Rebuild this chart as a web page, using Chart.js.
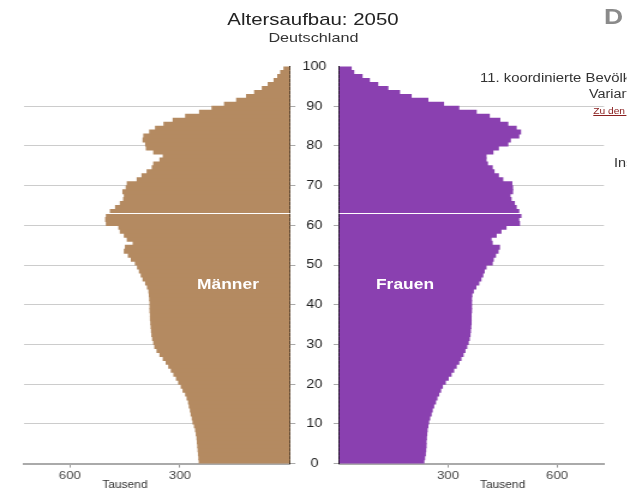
<!DOCTYPE html>
<html>
<head>
<meta charset="utf-8">
<script src="https://cdn.jsdelivr.net/npm/chart.js@4.4.1/dist/chart.umd.min.js"></script>
<style>
html,body{margin:0;padding:0;background:#fff;overflow:hidden;width:642px;height:491px}
#stage{position:absolute;left:0;top:0;width:535px;height:491px;transform:scaleX(1.2);transform-origin:0 0;font-family:"Liberation Sans",Arial,sans-serif;}
.txt{position:absolute;white-space:nowrap;line-height:1;}
#clip{position:absolute;left:0;top:0;width:521.7px;height:200px;overflow:hidden;}
canvas{position:absolute;top:0}
</style>
</head>
<body>
<div id="stage">
  <canvas id="men" width="247" height="491" style="left:0px"></canvas>
  <canvas id="women" width="263" height="491" style="left:241px"></canvas>
  <div class="txt" style="left:0;width:521.6px;text-align:center;top:10.6px;font-size:17px;color:#222">Altersaufbau: 2050</div>
  <div class="txt" style="left:0;width:522.4px;text-align:center;top:31.3px;font-size:13.5px;color:#333">Deutschland</div>
  <div id="clip">
    <div class="txt" style="left:503.3px;top:6.4px;font-size:22px;font-weight:bold;color:#8a8a8a">D</div>
    <div class="txt" style="left:400px;top:72.2px;font-size:12.4px;color:#333">11. koordinierte Bevölkerungsvorausberechnung</div>
    <div class="txt" style="left:490.8px;top:88.1px;font-size:12px;color:#333">Variante 1-W1</div>
    <div class="txt" style="left:494.4px;top:106.8px;font-size:8.5px;color:#8b2020;text-decoration:underline">Zu den Annahmen</div>
    <div class="txt" style="left:511.7px;top:156.5px;font-size:12px;color:#333">Insgesamt</div>
  </div>
  <div class="txt" style="left:140px;width:100px;text-align:center;top:277px;font-size:14.5px;font-weight:bold;color:#fff">Männer</div>
  <div class="txt" style="left:287.5px;width:100px;text-align:center;top:277px;font-size:14.5px;font-weight:bold;color:#fff">Frauen</div>
</div>
<script>
// ---- data ----
const AGES = Array.from({length: 100}, (_, i) => i); // age groups 0..99
const MEN = [
  249,250,251,252,253,254,255,257,259,262,
  266,268,271,273,276,278,282,286,293,298,
  305,311,318,325,332,339,347,356,364,370,
  373,376,378,379,380,381,382,382,383,383,
  383,384,385,386,390,395,402,407,412,417,
  423,434,442,453,450,429,445,453,464,468,
  502,504,502,491,477,464,455,453,457,448,
  445,418,405,391,377,373,356,347,373,393,
  395,402,400,384,368,345,320,286,248,214,
  180,147,120,98,77,61,45,35,27,18
];
const WOMEN = [
  235,237,239,240,241,241,242,243,244,246,
  248,251,255,258,262,267,271,276,281,286,
  294,302,310,317,324,331,337,343,348,353,
  357,360,362,363,364,365,365,365,366,366,
  366,366,367,371,378,386,392,397,401,406,
  423,426,432,439,443,423,420,434,447,461,
  498,496,502,496,489,484,475,472,479,479,
  477,452,440,428,423,410,406,406,425,440,
  466,473,496,501,489,466,444,415,379,331,
  289,246,200,168,136,108,85,65,42,35
];
const X_TICKS = [300, 600];
const Y_TICKS = [0, 10, 20, 30, 40, 50, 60, 70, 80, 90, 100];
const UNIT_LABEL = 'Tausend';
const UNIT_POS = 450;
const GAP_AGE = 63;

Chart.defaults.font.family = '"Liberation Sans", Arial, sans-serif';

const gapPlugin = {
  id: 'gap',
  afterDatasetsDraw(chart) {
    const y = Math.round(chart.scales.y.getPixelForValue(GAP_AGE)) + 0.5;
    const a = chart.chartArea, ctx = chart.ctx;
    ctx.save();
    ctx.strokeStyle = '#ffffff';
    ctx.lineWidth = 1;
    ctx.beginPath(); ctx.moveTo(a.left, y); ctx.lineTo(a.right, y); ctx.stroke();
    ctx.restore();
  }
};
const unitPlugin = {
  id: 'unit',
  afterDraw(chart) {
    const xs = chart.scales.x, ctx = chart.ctx;
    ctx.save();
    ctx.font = '10px "Liberation Sans", Arial, sans-serif';
    ctx.fillStyle = '#333';
    ctx.textAlign = 'center';
    ctx.textBaseline = 'alphabetic';
    ctx.fillText(UNIT_LABEL, xs.getPixelForValue(UNIT_POS), xs.bottom - 3);
    ctx.restore();
  }
};

function makeChart(id, values, color, isLeft, xmax) {
  return new Chart(document.getElementById(id), {
    type: 'bar',
    data: {
      datasets: [{
        data: AGES.map((a, i) => ({x: values[i], y: a + 0.5})),
        backgroundColor: color,
        borderWidth: 0,
        barPercentage: 1.25,
        categoryPercentage: 1
      }]
    },
    options: {
      indexAxis: 'y',
      responsive: false,
      animation: false,
      events: [],
      layout: {padding: isLeft ? {left: 20, top: 66.6, right: 0, bottom: 0} : {left: 0, top: 66.6, right: 0.7, bottom: 0}},
      plugins: {legend: {display: false}, tooltip: {enabled: false}},
      scales: {
        x: {
          type: 'linear', reverse: isLeft, min: 0, max: xmax, position: 'bottom', offset: false,
          afterBuildTicks: s => { s.ticks = X_TICKS.map(v => ({value: v})); },
          afterFit: s => { s.height = 27.4; },
          grid: {drawOnChartArea: false, drawTicks: true, tickLength: 4, tickColor: '#999', offset: false},
          border: {color: '#aaa', width: 2},
          ticks: {font: {size: 11}, color: '#444', padding: 2}
        },
        y: {
          type: 'linear', min: 0, max: 100, position: isLeft ? 'right' : 'left', z: 1, offset: false,
          afterBuildTicks: s => { s.ticks = Y_TICKS.map(v => ({value: v})); },
          afterFit: s => { s.width = isLeft ? 5.3 : 41.5; },
          grid: {
            offset: false,
            color: c => (c.tick && c.tick.value === 100) ? 'rgba(0,0,0,0)' : 'rgba(0,0,0,0.2)',
            tickColor: c => (c.tick && c.tick.value === 100) ? 'rgba(0,0,0,0)' : '#aaa',
            tickLength: 4.5, drawTicks: true
          },
          border: {color: '#000', width: 1},
          ticks: {display: !isLeft, font: {size: 12}, color: '#222', padding: 6, crossAlign: 'center'}
        }
      }
    },
    plugins: [gapPlugin, unitPlugin]
  });
}

makeChart('men', MEN, '#b48a61', true, 725);
makeChart('women', WOMEN, '#8a40b0', false, 729);
</script>
</body>
</html>
